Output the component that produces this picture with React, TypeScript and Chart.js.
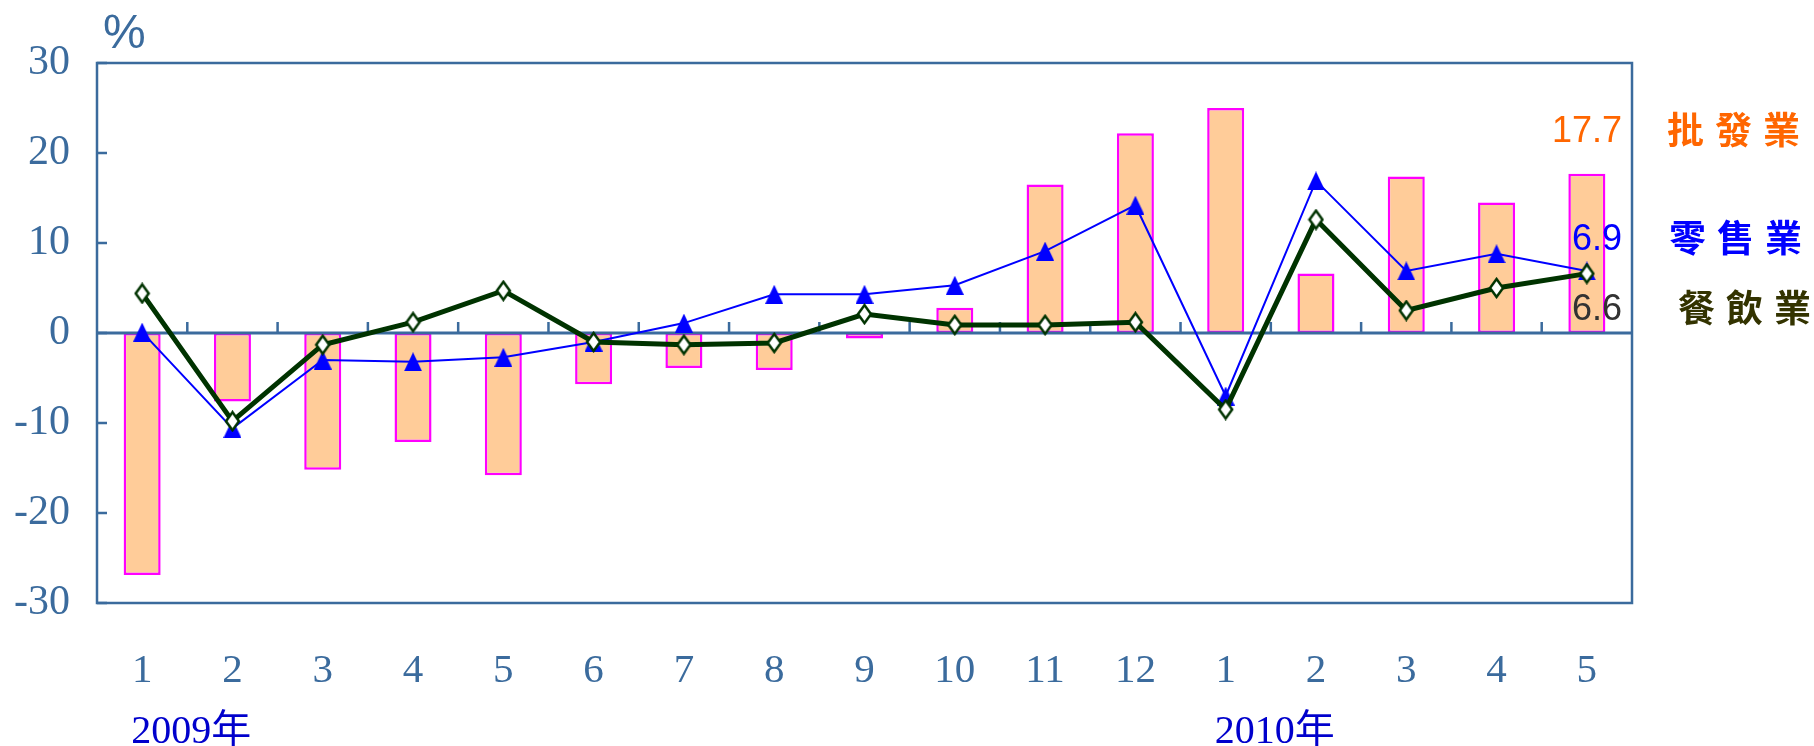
import { useEffect, useRef } from "react";
import { Chart, registerables } from "chart.js";

Chart.register(...registerables);

// ---- data ----
const months = ["1", "2", "3", "4", "5", "6", "7", "8", "9", "10", "11", "12", "1", "2", "3", "4", "5"];
const yearLabels = ["2009年", "2010年"];
const yearStartIndex = [0, 12];
const seriesNames = ["批發業", "零售業", "餐飲業"];
const wholesale = [-26.9, -7.6, -15.2, -12.1, -15.8, -5.7, -3.9, -4.1, -0.6, 2.8, 16.5, 22.2, 25.0, 6.6, 17.4, 14.5, 17.7];
const retail = [0.1, -10.6, -3.0, -3.2, -2.7, -1.0, 1.1, 4.3, 4.3, 5.3, 9.1, 14.2, -7.0, 16.9, 6.9, 8.8, 6.9];
const food = [4.4, -9.8, -1.3, 1.2, 4.7, -1.0, -1.3, -1.1, 2.1, 0.9, 0.9, 1.2, -8.5, 12.6, 2.5, 5.0, 6.6];
const yMin = -30;
const yMax = 30;
const yStep = 10;

const AXIS = "#3B6B9D";
const ORANGE = "#FF6600";
const BLUE = "#0000FF";
const GREEN = "#003300";

function makeTriangle(w: number, h: number, color: string) {
  const c = document.createElement("canvas");
  c.width = w;
  c.height = h;
  const ctx = c.getContext("2d")!;
  ctx.fillStyle = color;
  ctx.beginPath();
  ctx.moveTo(w / 2, 0);
  ctx.lineTo(w, h);
  ctx.lineTo(0, h);
  ctx.closePath();
  ctx.fill();
  return c;
}

function makeDiamond(w: number, h: number, stroke: string) {
  const c = document.createElement("canvas");
  c.width = w;
  c.height = h;
  const ctx = c.getContext("2d")!;
  ctx.fillStyle = "#FFFFFF";
  ctx.strokeStyle = stroke;
  ctx.lineWidth = 2.5;
  ctx.lineJoin = "miter";
  ctx.beginPath();
  ctx.moveTo(w / 2, 2);
  ctx.lineTo(w - 2, h / 2);
  ctx.lineTo(w / 2, h - 2);
  ctx.lineTo(2, h / 2);
  ctx.closePath();
  ctx.fill();
  ctx.stroke();
  return c;
}

const decorPlugin = {
  id: "decor",
  afterDatasetDraw(chart: any, args: any) {
    if (args.meta.type !== "bar") return;
    const { ctx, chartArea } = chart;
    const x = chart.scales.x;
    const y = chart.scales.y;
    const y0 = y.getPixelForValue(0);
    ctx.save();
    ctx.strokeStyle = AXIS;
    ctx.lineWidth = 3;
    ctx.beginPath();
    ctx.moveTo(chartArea.left, y0);
    ctx.lineTo(chartArea.right, y0);
    ctx.stroke();
    ctx.lineWidth = 2.5;
    ctx.beginPath();
    for (let i = 1; i < months.length; i++) {
      const px = (x.getPixelForValue(i - 1) + x.getPixelForValue(i)) / 2;
      ctx.moveTo(px, y0);
      ctx.lineTo(px, y0 - 11);
    }
    ctx.stroke();
    ctx.restore();
  },
  afterDraw(chart: any) {
    const { ctx, chartArea } = chart;
    const x = chart.scales.x;
    const y = chart.scales.y;
    ctx.save();
    // frame
    ctx.strokeStyle = AXIS;
    ctx.lineWidth = 2.5;
    ctx.strokeRect(chartArea.left, chartArea.top, chartArea.right - chartArea.left, chartArea.bottom - chartArea.top);
    // inside y ticks
    ctx.beginPath();
    for (let v = yMin; v <= yMax; v += yStep) {
      const py = y.getPixelForValue(v);
      ctx.moveTo(chartArea.left, py);
      ctx.lineTo(chartArea.left + 10, py);
    }
    ctx.stroke();

    // unit
    ctx.fillStyle = AXIS;
    ctx.font = "48px 'Liberation Sans'";
    ctx.textAlign = "left";
    ctx.textBaseline = "alphabetic";
    ctx.fillText("%", chartArea.left + 6, 48);

    // year labels
    ctx.fillStyle = "#0000CC";
    ctx.font = "40px 'Liberation Serif', 'Noto Sans CJK TC'";
    yearLabels.forEach((t, i) => {
      ctx.fillText(t, x.getPixelForValue(yearStartIndex[i]) - 11, 743);
    });

    // value labels
    const last = months.length - 1;
    const rx = chartArea.right - 10;
    ctx.font = "36px 'Liberation Sans'";
    ctx.textAlign = "right";
    ctx.textBaseline = "middle";
    const rows = [
      { text: String(wholesale[last]), color: ORANGE, y: y.getPixelForValue(wholesale[last]) - 42, legendColor: ORANGE, lx: 35 },
      { text: String(retail[last]), color: BLUE, y: y.getPixelForValue(retail[last]) - 31, legendColor: BLUE, lx: 37 },
      { text: String(food[last]), color: "#333333", y: y.getPixelForValue(food[last]) + 36, legendColor: "#333300", lx: 46 },
    ];
    rows.forEach((r) => {
      ctx.fillStyle = r.color;
      ctx.fillText(r.text, rx, r.y);
    });

    // series names
    ctx.font = "bold 37px 'Noto Sans CJK TC'";
    ctx.textAlign = "left";
    rows.forEach((r, i) => {
      ctx.fillStyle = r.legendColor;
      const chars = Array.from(seriesNames[i]);
      chars.forEach((ch, k) => {
        ctx.fillText(ch, chartArea.right + r.lx + k * 48, r.y - 2);
      });
    });
    ctx.restore();
  },
};

export default function App() {
  const ref = useRef<HTMLCanvasElement | null>(null);
  useEffect(() => {
    if (!ref.current) return;
    const tri = makeTriangle(18, 19, BLUE);
    const dia = makeDiamond(17, 22, GREEN);
    const chart = new Chart(ref.current, {
      type: "bar",
      data: {
        labels: months,
        datasets: [
          {
            type: "line",
            label: seriesNames[2],
            data: food,
            borderColor: GREEN,
            borderWidth: 5,
            pointStyle: dia as any,
            pointRadius: 9,
            tension: 0,
            order: 0,
          } as any,
          {
            type: "line",
            label: seriesNames[1],
            data: retail,
            borderColor: BLUE,
            borderWidth: 2,
            pointStyle: tri as any,
            pointRadius: 9,
            tension: 0,
            order: 1,
          } as any,
          {
            type: "bar",
            label: seriesNames[0],
            data: wholesale,
            backgroundColor: "#FFCC99",
            borderColor: "#FF00FF",
            borderWidth: 2.5,
            borderSkipped: false,
            barPercentage: 0.41,
            categoryPercentage: 1,
            order: 2,
          } as any,
        ],
      },
      options: {
        animation: false,
        responsive: false,
        layout: { padding: { top: 63, right: 182, left: 0, bottom: 0 } },
        plugins: { legend: { display: false }, tooltip: { enabled: false } },
        scales: {
          x: {
            offset: true,
            grid: { display: false, drawTicks: false },
            border: { display: false },
            ticks: {
              color: AXIS,
              font: { family: "'Liberation Serif'", size: 41 },
              padding: 44,
              maxRotation: 0,
              autoSkip: false,
            },
            afterFit: (s: any) => {
              s.height = 143;
            },
          },
          y: {
            min: yMin,
            max: yMax,
            grid: { display: false, drawTicks: false },
            border: { display: false },
            ticks: {
              stepSize: yStep,
              color: AXIS,
              font: { family: "'Liberation Serif'", size: 42 },
              padding: 27,
              callback: (v: any) => String(v),
            },
            afterFit: (s: any) => {
              s.width = 97;
            },
          },
        },
      },
      plugins: [decorPlugin],
    });
    return () => chart.destroy();
  }, []);
  return (
    <div style={{ position: "fixed", left: 0, top: 0, width: 1814, height: 746, background: "#fff" }}>
      <canvas ref={ref} width={1814} height={746} style={{ display: "block" }} />
    </div>
  );
}
